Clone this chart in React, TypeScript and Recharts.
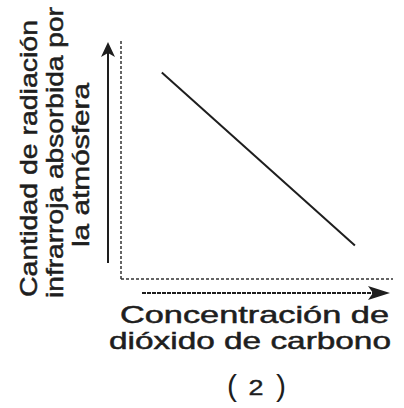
import React from 'react';
import { LineChart, Line, XAxis, YAxis, ReferenceLine } from 'recharts';

// two readings: concentration vs absorbed radiation
const concentration = [1.5, 8.6];
const radiation = [8.6, 1.4];

const yLabelLines = ['Cantidad de radiación', 'infrarroja absorbida por', 'la atmósfera'];
const xLabelLines = ['Concentración de', 'dióxido de carbono'];
const caption = '2';

const W = 404;
const H = 408;
const margin = { top: 39, right: 11, left: 121, bottom: 129 };

const data = concentration.map((c, i) => ({ c, r: radiation[i] }));

const font = '"Liberation Sans", Arial, sans-serif';
const ink = '#1e1e1e';
const frame = { stroke: '#333', strokeWidth: 1.5, strokeDasharray: '3 2' };

const Overlay: React.FC = () => {
  const left = margin.left;
  const bottom = H - margin.bottom;
  // arrow axes sit just outside the dashed frame
  const ax = left - 13;
  const ay = bottom + 14;
  return (
    <svg
      width={W}
      height={H}
      style={{ position: 'absolute', left: 0, top: 0, pointerEvents: 'none' }}
    >
      {/* vertical arrow */}
      <line x1={ax} y1={bottom - 16} x2={ax} y2={52} stroke={ink} strokeWidth={2} />
      <polygon points={`${ax},42 ${ax - 7},57 ${ax},53 ${ax + 7},57`} fill={ink} />
      {/* horizontal arrow */}
      <line x1={left + 21} y1={ay} x2={378} y2={ay} stroke={ink} strokeWidth={2} strokeDasharray="4 1" />
      <polygon points={`390,${ay} 368,${ay - 7} 373,${ay} 368,${ay + 7}`} fill={ink} />

      {/* y label, rotated */}
      {[
        { x: 37, y: 297, len: 277 },
        { x: 63, y: 298, len: 291 },
        { x: 89, y: 247, len: 164 },
      ].map((p, i) => (
        <text
          key={i}
          transform={`translate(${p.x},${p.y}) rotate(-90)`}
          fontFamily={font}
          fontSize={24}
          fill={ink}
          stroke={ink}
          strokeWidth={0.5}
          textLength={p.len}
          lengthAdjust="spacingAndGlyphs"
        >
          {yLabelLines[i]}
        </text>
      ))}

      {/* x label */}
      {[
        { x: 120, y: 323, len: 269 },
        { x: 109, y: 349, len: 282 },
      ].map((p, i) => (
        <text
          key={i}
          x={p.x}
          y={p.y}
          fontFamily={font}
          fontSize={24}
          fill={ink}
          stroke={ink}
          strokeWidth={0.5}
          textLength={p.len}
          lengthAdjust="spacingAndGlyphs"
        >
          {xLabelLines[i]}
        </text>
      ))}

      {/* caption */}
      <text x={232} y={396} textAnchor="middle" fontFamily={font} fontSize={30} fill={ink}>(</text>
      <text x={256} y={395} textAnchor="middle" fontFamily={font} fontSize={22} fill={ink} stroke={ink} strokeWidth={0.4}
        textLength={15} lengthAdjust="spacingAndGlyphs">
        {caption}
      </text>
      <text x={281} y={396} textAnchor="middle" fontFamily={font} fontSize={30} fill={ink}>)</text>
    </svg>
  );
};

export default function App() {
  return (
    <div style={{ position: 'absolute', left: 0, top: 0, width: W, height: H, background: '#fff' }}>
      <LineChart width={W} height={H} data={data} margin={margin}>
        <XAxis dataKey="c" type="number" domain={[0, 10]} hide />
        <YAxis dataKey="r" type="number" domain={[0, 10]} hide />
        <ReferenceLine x={0} {...frame} />
        <ReferenceLine y={0} {...frame} />
        <Line
          dataKey="r"
          stroke={ink}
          strokeWidth={2}
          dot={false}
          isAnimationActive={false}
        />
      </LineChart>
      <Overlay />
    </div>
  );
}
